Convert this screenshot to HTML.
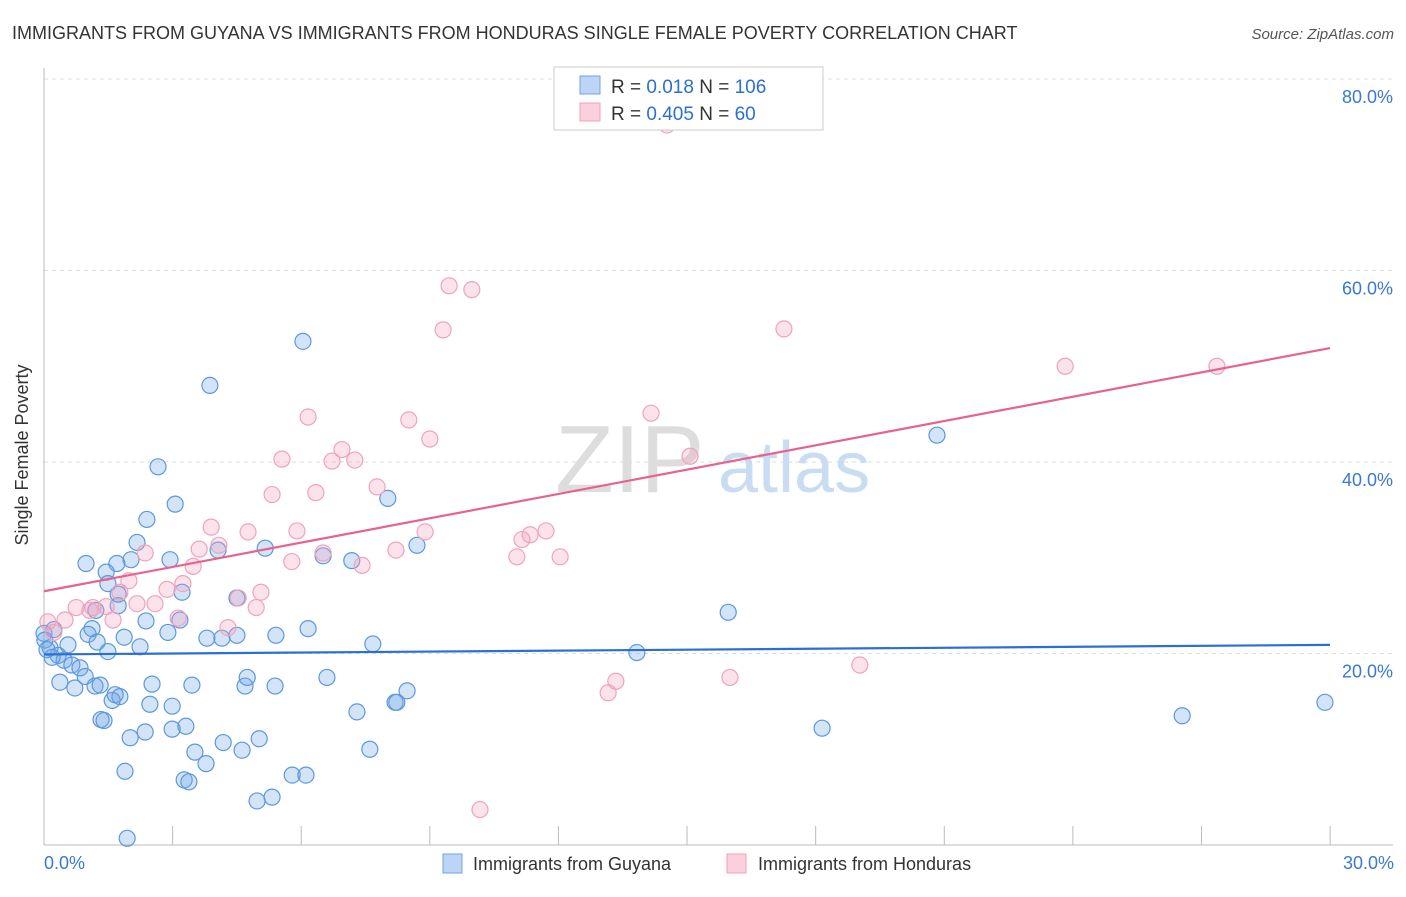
<!DOCTYPE html>
<html><head><meta charset="utf-8"><style>
body{margin:0;background:#fff;font-family:"Liberation Sans",sans-serif}
svg text{font-family:"Liberation Sans",sans-serif}
</style></head><body>
<svg width="1406" height="892" viewBox="0 0 1406 892">
<text x="12" y="39" font-size="18" fill="#333">IMMIGRANTS FROM GUYANA VS IMMIGRANTS FROM HONDURAS SINGLE FEMALE POVERTY CORRELATION CHART</text>
<text x="1394" y="39" font-size="15" fill="#555" font-style="italic" text-anchor="end">Source: ZipAtlas.com</text>
<g id="grid"></g>
<text x="555" y="492" font-size="96" fill="#ddd" font-family="Liberation Serif">ZIP</text>
<text x="718" y="492" font-size="72" fill="#c8dcf2">atlas</text>
<g id="pts"></g>
<g id="trends"></g>
<text x="28" y="455" font-size="18" fill="#333" text-anchor="middle" transform="rotate(-90 28 455)">Single Female Poverty</text>
<g>
<rect x="554" y="67" width="269" height="63" fill="#fff" stroke="#ccc"/>
<rect x="580" y="76" width="20" height="18" fill="#bcd5f5" stroke="#6fa3e6"/>
<rect x="580" y="103" width="20" height="18" fill="#fbd0dd" stroke="#f0a0b8"/>
<text x="611" y="93" font-size="19" fill="#333">R = <tspan fill="#2a6fd6"> 0.018</tspan>   N = <tspan fill="#2a6fd6">106</tspan></text>
<text x="611" y="120" font-size="19" fill="#333">R = <tspan fill="#2a6fd6">0.405</tspan>   N = <tspan fill="#2a6fd6">  60</tspan></text>
</g>
<text x="44" y="869" font-size="18" fill="#3a78d4">0.0%</text>
<text x="1394" y="869" font-size="18" fill="#3a78d4" text-anchor="end">30.0%</text>
<rect x="443" y="854" width="19" height="19" fill="#bcd5f5" stroke="#6fa3e6"/>
<text x="473" y="870" font-size="18" fill="#333">Immigrants from Guyana</text>
<rect x="727" y="854" width="19" height="19" fill="#fbd0dd" stroke="#f0a0b8"/>
<text x="758" y="870" font-size="18" fill="#333">Immigrants from Honduras</text>
</svg>
<script>
const yTicks=[20,40,60,80];
const yTickLabels=["20.0%","40.0%","60.0%","80.0%"];
const xTicks=[0,3,6,9,12,15,18,21,24,27,30];
const guyanaX=[6.04,3.87,2.66,3.06,2.40,2.17,0.98,1.70,2.03,2.94,1.45,3.22,1.49,1.73,1.73,1.21,4.06,5.16,6.51,7.18,8.02,8.70,4.50,2.38,3.17,2.89,1.12,1.03,1.87,2.24,1.24,3.80,4.15,4.50,5.41,6.16,7.67,0.23,0.14,0.33,0.56,0.47,0.65,0.84,0.96,0.37,0.72,1.19,1.31,1.66,1.77,2.52,3.45,4.69,5.39,4.74,6.60,1.59,2.47,2.99,1.33,1.40,2.01,2.36,2.99,3.31,3.52,4.18,4.62,5.02,3.78,3.27,3.38,1.89,4.97,5.32,5.79,6.11,7.30,7.60,8.19,8.23,8.47,13.83,15.96,18.15,20.83,26.55,29.88,1.94,0.0,0.02,0.07,0.19,1.49];
const guyanaY=[52.6,48.0,39.5,35.6,34.0,31.6,29.4,29.4,29.8,29.8,28.5,26.4,27.3,26.2,25.0,24.5,30.8,31.0,30.2,29.7,36.2,31.3,25.8,23.4,23.5,22.2,22.6,22.0,21.7,20.7,21.2,21.6,21.6,21.9,21.9,22.6,21.0,22.5,20.6,19.8,20.9,19.3,18.8,18.5,17.6,17.0,16.4,16.6,16.7,15.7,15.5,16.8,16.7,16.6,16.6,17.5,17.5,15.1,14.7,14.5,13.1,13.0,11.2,11.8,12.1,12.4,9.7,10.7,9.9,11.1,8.5,6.8,6.6,7.7,4.6,5.0,7.3,7.3,13.9,10.0,14.9,14.9,16.1,20.1,24.3,12.2,42.8,13.5,14.9,0.7,22.1,21.4,20.4,19.6,20.2];
const hondurasX=[14.53,9.45,9.98,9.31,17.26,23.82,27.36,14.16,6.16,8.51,9.00,6.95,7.25,6.72,5.55,15.07,7.77,5.32,6.34,3.90,4.76,5.90,8.89,11.71,11.34,11.15,2.36,4.08,3.62,6.51,8.21,11.03,12.04,7.42,5.78,3.48,1.98,3.24,2.87,1.77,5.06,4.53,2.59,2.17,4.95,1.45,0.75,1.14,0.49,1.61,3.13,0.09,0.23,4.29,13.34,13.16,16.00,19.03,10.17,1.07];
const hondurasY=[75.2,58.4,58.0,53.8,53.9,50.0,50.0,45.1,44.7,44.4,42.4,41.3,40.2,40.1,40.3,40.6,37.4,36.6,36.8,33.2,32.7,32.8,32.7,32.8,32.4,31.9,30.5,31.3,30.9,30.5,30.8,30.1,30.1,29.2,29.6,29.1,27.6,27.3,26.7,26.4,26.4,25.8,25.2,25.2,24.8,24.9,24.8,24.8,23.5,23.5,23.7,23.3,22.2,22.7,17.1,15.9,17.5,18.8,3.7,24.5];
const guyanaTrend=[19.9,20.9];
const hondurasTrend=[26.5,51.9];
const NS="http://www.w3.org/2000/svg";
const X=v=>44+v*42.87, Y=v=>845-v*9.575;
function mk(t,a,p){const e=document.createElementNS(NS,t);for(const k in a)e.setAttribute(k,a[k]);p.appendChild(e);return e;}
const g=document.getElementById('grid');
yTicks.forEach((t,i)=>{
 const l=mk('line',{x1:44,x2:1393,y1:Y(t),y2:Y(t),stroke:'#ddd','stroke-dasharray':'4,4'},g);
 
 
 const tx=mk('text',{x:1393,y:Y(t)+24,'font-size':18,fill:'#3a78d4','text-anchor':'end'},g);
 tx.textContent=yTickLabels[i];
 
 
});
const ax=mk('line',{x1:44,x2:1393,y1:845,y2:845,stroke:'#bbb'},g);


const ay=mk('line',{x1:44,x2:44,y1:68,y2:845,stroke:'#bbb'},g);


xTicks.forEach(t=>{
 const l=mk('line',{x1:X(t),x2:X(t),y1:826,y2:845,stroke:'#bbb'},g);
 
 
});
const p=document.getElementById('pts');
guyanaX.forEach((v,i)=>{
 const c=mk('circle',{cx:X(v),cy:Y(guyanaY[i]),r:8,fill:'rgba(110,165,230,0.3)',stroke:'#5b98e0','stroke-width':1.2},p);
 
 
});
hondurasX.forEach((v,i)=>{
 const c=mk('circle',{cx:X(v),cy:Y(hondurasY[i]),r:8,fill:'rgba(245,160,190,0.3)',stroke:'#f0a3bb','stroke-width':1.2},p);
 
 
});
const tr=document.getElementById('trends');
const bt=mk('line',{x1:X(0),x2:X(30),y1:Y(guyanaTrend[0]),y2:Y(guyanaTrend[1]),stroke:'#2a6fd6','stroke-width':2.2},tr);


const pt=mk('line',{x1:X(0),x2:X(30),y1:Y(hondurasTrend[0]),y2:Y(hondurasTrend[1]),stroke:'#e8628e','stroke-width':2.2},tr);


</script>
</body></html>
